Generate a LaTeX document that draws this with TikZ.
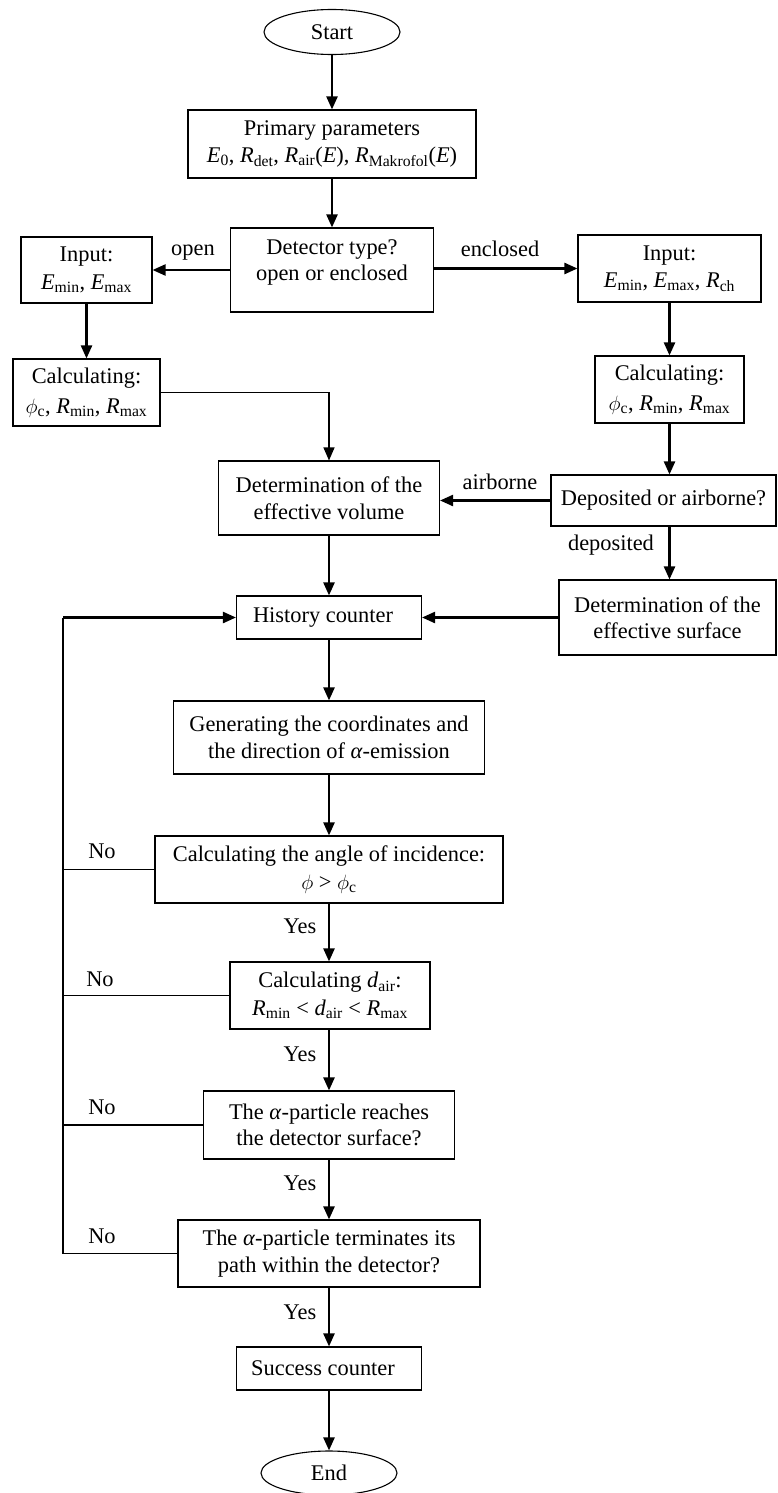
\documentclass[tikz,border=0pt]{standalone}
\usepackage{fontspec}
\setmainfont{Liberation Serif}
\usetikzlibrary{arrows.meta,shapes.geometric}
\begin{document}
\begin{tikzpicture}[x=1pt,y=-1pt,
  box/.style={draw, line width=1.1pt, rectangle, align=center, inner sep=0pt, font=\fontsize{22.4}{26.5}\selectfont},
  oval/.style={draw, line width=1.1pt, ellipse, inner sep=0pt, font=\fontsize{22.4}{26.5}\selectfont},
  arr/.style={line width=2.3pt, -{Triangle[length=13pt,width=11pt]}},
  thinarr/.style={line width=1.1pt, -{Triangle[length=13pt,width=11pt]}},
  thinline/.style={line width=1.1pt},
  lbl/.style={font=\fontsize{22.4}{26.5}\selectfont, inner sep=0pt}
]
\useasboundingbox (0,0) rectangle (778,1493);

\node[oval, minimum width=136pt, minimum height=45pt] (start) at (332,32) {Start};
\node[box, minimum width=288pt, minimum height=68pt] (prim) at (332,144)
  {Primary parameters\\ \textit{E}\textsubscript{0}, \textit{R}\textsubscript{det}, \textit{R}\textsubscript{air}(\textit{E}), \textit{R}\textsubscript{Makrofol}(\textit{E})};
\node[box, minimum width=203pt, minimum height=84pt, text depth=20pt] (det) at (332,270)
  {Detector type?\\open or enclosed};
\node[box, minimum width=131pt, minimum height=66pt] (inL) at (86.5,270)
  {Input:\\[1pt] \textit{E}\textsubscript{min}, \textit{E}\textsubscript{max}};
\node[box, minimum width=183pt, minimum height=67pt] (inR) at (669.5,268.5)
  {Input:\\[1pt] \textit{E}\textsubscript{min}, \textit{E}\textsubscript{max}, \textit{R}\textsubscript{ch}};
\node[box, minimum width=147pt, minimum height=67pt] (calcL) at (86.5,392.5)
  {Calculating:\\[3pt] $\phi$\textsubscript{c}, \textit{R}\textsubscript{min}, \textit{R}\textsubscript{max}};
\node[box, minimum width=149pt, minimum height=67pt] (calcR) at (669.5,389.5)
  {Calculating:\\[3pt] $\phi$\textsubscript{c}, \textit{R}\textsubscript{min}, \textit{R}\textsubscript{max}};
\node[box, minimum width=221pt, minimum height=74pt] (vol) at (329,498)
  {Determination of the\\effective volume};
\node[box, minimum width=225pt, minimum height=51pt] (dep) at (663.5,500.5)
  {Deposited or airborne?};
\node[box, minimum width=217pt, minimum height=75pt] (surf) at (667.5,617.5)
  {Determination of the\\effective surface};
\node[box, minimum width=185pt, minimum height=43pt] (hist) at (329,617.5)
  {History counter\hspace*{12pt}};
\node[box, minimum width=311pt, minimum height=73pt] (gen) at (329,737.5)
  {Generating the coordinates and\\the direction of \textit{α}-emission};
\node[box, minimum width=348pt, minimum height=67pt] (angle) at (329,869.5)
  {Calculating the angle of incidence:\\[1pt] $\phi$ > $\phi$\textsubscript{c}};
\node[box, minimum width=200pt, minimum height=67pt] (dair) at (330,995.5)
  {Calculating \textit{d}\textsubscript{air}:\\[1pt] \textit{R}\textsubscript{min} < \textit{d}\textsubscript{air} < \textit{R}\textsubscript{max}};
\node[box, minimum width=251pt, minimum height=68pt] (reach) at (329,1125)
  {The \textit{α}-particle reaches\\the detector surface?};
\node[box, minimum width=302pt, minimum height=67pt] (termn) at (329,1253.5)
  {The \textit{α}-particle terminates its\\path within the detector?};
\node[box, minimum width=185pt, minimum height=43pt] (succ) at (329,1368.5)
  {Success counter\hspace*{12pt}};
\node[oval, minimum width=136pt, minimum height=44pt] (endn) at (329,1473) {End};

\coordinate (lp) at (63,617.5);

% main flow
\draw[arr] (start) -- (prim);
\draw[arr] (prim) -- (det);
\draw[arr] (det.west) -- (inL.east);
\draw[arr] (det.east |- inR.west) -- (inR.west);
\draw[arr] (inL) -- (calcL);
\draw[arr] (inR) -- (calcR);
\draw[arr] (calcR.south) -- (calcR.south |- dep.north);
\draw[thinarr] (calcL.east) -| (vol.north);
\draw[arr] (dep.west) -- (vol.east |- dep.west);
\draw[arr] (calcR.south |- dep.south) -- (calcR.south |- surf.north);
\draw[arr] (surf.west) -- (hist.east);
\draw[arr] (vol) -- (hist);
\draw[arr] (hist) -- (gen);
\draw[arr] (gen) -- (angle);
\draw[arr] (angle.south) -- (angle.south |- dair.north);
\draw[arr] (angle.south |- dair.south) -- (angle.south |- reach.north);
\draw[arr] (reach) -- (termn);
\draw[arr] (termn) -- (succ);
\draw[arr] (succ) -- (endn);

% loop back
\draw[thinline] (angle.west) -- (angle.west -| lp);
\draw[thinline] (dair.west) -- (dair.west -| lp);
\draw[thinline] (reach.west) -- (reach.west -| lp);
\draw[thinline] (termn.west) -- (termn.west -| lp) -- (lp);
\draw[arr] (lp) -- (hist.west);

% labels
\node[lbl] (lopen) at (193,253) {open};
\node[lbl] (lencl) at (500,249) {enclosed};
\node[lbl] (lair) at (500,482) {airborne};
\node[lbl] (ldep) at (611,545) {deposited};
\node[lbl] (no1) at (102,851) {No};
\node[lbl] (no2) at (100,979) {No};
\node[lbl] (no3) at (102,1107) {No};
\node[lbl] (no4) at (102,1236) {No};
\node[lbl] (yes1) at (300,926) {Yes};
\node[lbl] (yes2) at (300,1054) {Yes};
\node[lbl] (yes3) at (300,1183) {Yes};
\node[lbl] (yes4) at (300,1312) {Yes};
\end{tikzpicture}
\end{document}
